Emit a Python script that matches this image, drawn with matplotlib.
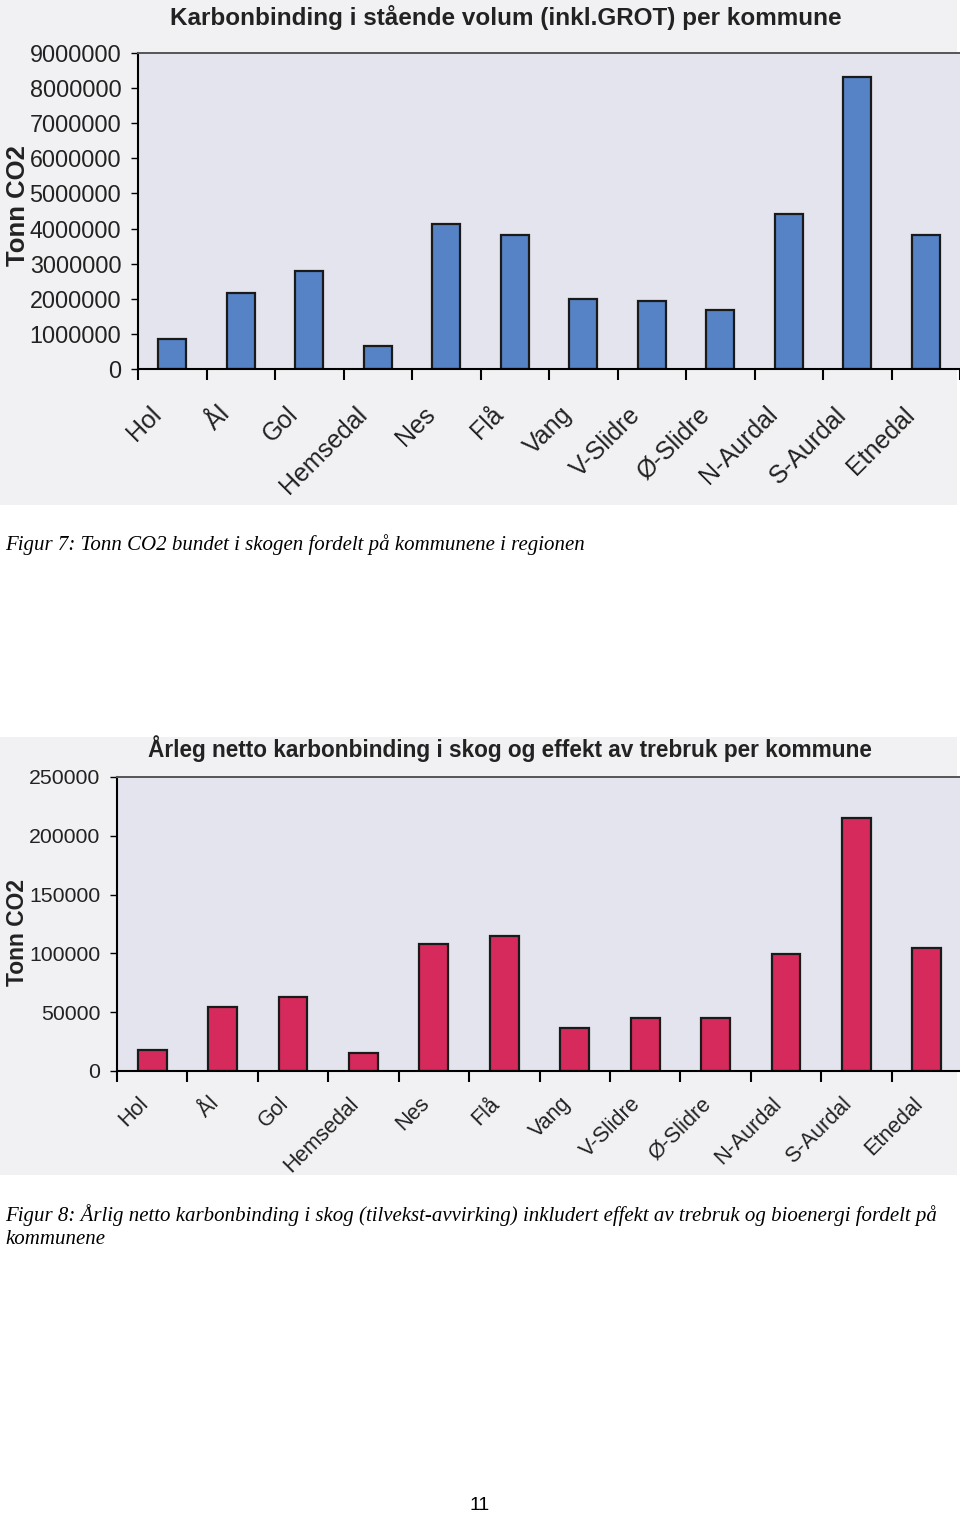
import matplotlib.pyplot as plt
from matplotlib.patches import Rectangle
import numpy as np

# kommuner
kommuner = ['Hol', 'Ål', 'Gol', 'Hemsedal', 'Nes', 'Flå', 'Vang',
            'V-Slidre', 'Ø-Slidre', 'N-Aurdal', 'S-Aurdal', 'Etnedal']

# figur 7: staaende volum (tonn CO2)
staaende = [850000, 2170000, 2790000, 660000, 4130000, 3820000, 1990000,
            1940000, 1680000, 4420000, 8320000, 3820000]

# figur 8: aarleg netto binding (tonn CO2)
aarleg = [17900, 54400, 62900, 15300, 108000, 114800, 36600,
          45000, 45000, 99500, 215000, 104600]

W, H = 960, 1516
fig = plt.figure(figsize=(W / 100, H / 100), dpi=100)
fig.patch.set_facecolor('white')

plt.rcParams['font.family'] = ['Liberation Sans', 'DejaVu Sans']


def px_axes(x0, y0, x1, y1):
    # pixel box (top-left origin) -> figure axes
    return fig.add_axes([x0 / W, 1 - y1 / H, (x1 - x0) / W, (y1 - y0) / H])


def panel(y0, y1):
    fig.add_artist(Rectangle((0, 1 - y1 / H), 957 / W, (y1 - y0) / H,
                             transform=fig.transFigure, facecolor='#f1f1f3',
                             edgecolor='none', zorder=0))


def bar_chart(ax, vals, color, ymax, step, tick_fs, lab_fs, lab_shift, lab_pad):
    x = np.arange(len(kommuner)) + 0.5
    ax.bar(x, vals, width=0.41, color=color, edgecolor='#1a1a1a', linewidth=1.6)
    ax.set_facecolor('#e4e4ee')
    ax.set_xlim(0, 12)
    ax.set_ylim(0, ymax)
    ax.set_yticks(np.arange(0, ymax + 1, step))
    ax.set_yticklabels([str(int(v)) for v in np.arange(0, ymax + 1, step)],
                       fontsize=tick_fs, color='#222222')
    ax.set_xticks(np.arange(0, 13))
    ax.set_xticklabels([])
    # names sit a bit left of the bar centre in the scan
    ax.set_xticks(x + lab_shift, minor=True)
    ax.set_xticklabels(kommuner, minor=True, rotation=45, ha='right',
                       va='top', rotation_mode='anchor', fontsize=lab_fs,
                       color='#222222')
    ax.tick_params(axis='x', which='major', length=8, width=1.5, direction='out')
    ax.tick_params(axis='x', which='minor', length=0, pad=lab_pad)
    ax.tick_params(axis='y', length=5, width=1, pad=7)
    ax.spines['right'].set_visible(False)
    ax.spines['top'].set_color('#555555')
    ax.spines['top'].set_linewidth(1.4)
    ax.spines['left'].set_linewidth(1.5)
    ax.spines['bottom'].set_linewidth(1.5)


# ---- figur 7
panel(0, 505)
ax1 = px_axes(138, 53, 960, 369)
bar_chart(ax1, staaende, '#5583c6', 9000000, 1000000, 16.8, 18, -0.34, 24)
fig.text(506 / W, 1 - 18 / H, 'Karbonbinding i stående volum (inkl.GROT) per kommune',
         ha='center', va='center', fontsize=17.5, fontweight='bold', color='#222222')
fig.text(18 / W, 1 - 206 / H, 'Tonn CO2', rotation=90, ha='center', va='center',
         fontsize=18.5, fontweight='bold', color='#222222')

fig.text(5 / W, 1 - 545 / H,
         'Figur 7: Tonn CO2 bundet i skogen fordelt på kommunene i regionen',
         ha='left', va='center', fontsize=15, style='italic',
         family=['Liberation Serif'])

# ---- figur 8
panel(737, 1175)
ax2 = px_axes(117, 777, 962, 1071)
bar_chart(ax2, aarleg, '#d62a5c', 250000, 50000, 15.3, 15.5, -0.21, 16)
fig.text(510 / W, 1 - 749 / H,
         'Årleg netto karbonbinding i skog og effekt av trebruk per kommune',
         ha='center', va='center', fontsize=16.3, fontweight='bold', color='#222222')
fig.text(18 / W, 1 - 932 / H, 'Tonn CO2', rotation=90, ha='center', va='center',
         fontsize=16.5, fontweight='bold', color='#222222')

fig.text(5 / W, 1 - 1215 / H,
         'Figur 8: Årlig netto karbonbinding i skog (tilvekst-avvirking) inkludert effekt av trebruk og bioenergi fordelt på',
         ha='left', va='center', fontsize=15, style='italic',
         family=['Liberation Serif'])
fig.text(5 / W, 1 - 1239 / H, 'kommunene', ha='left', va='center', fontsize=15,
         style='italic', family=['Liberation Serif'])

fig.text(480 / W, 1 - 1505 / H, '11', ha='center', va='center', fontsize=14)

fig.savefig('out.png', dpi=100)
